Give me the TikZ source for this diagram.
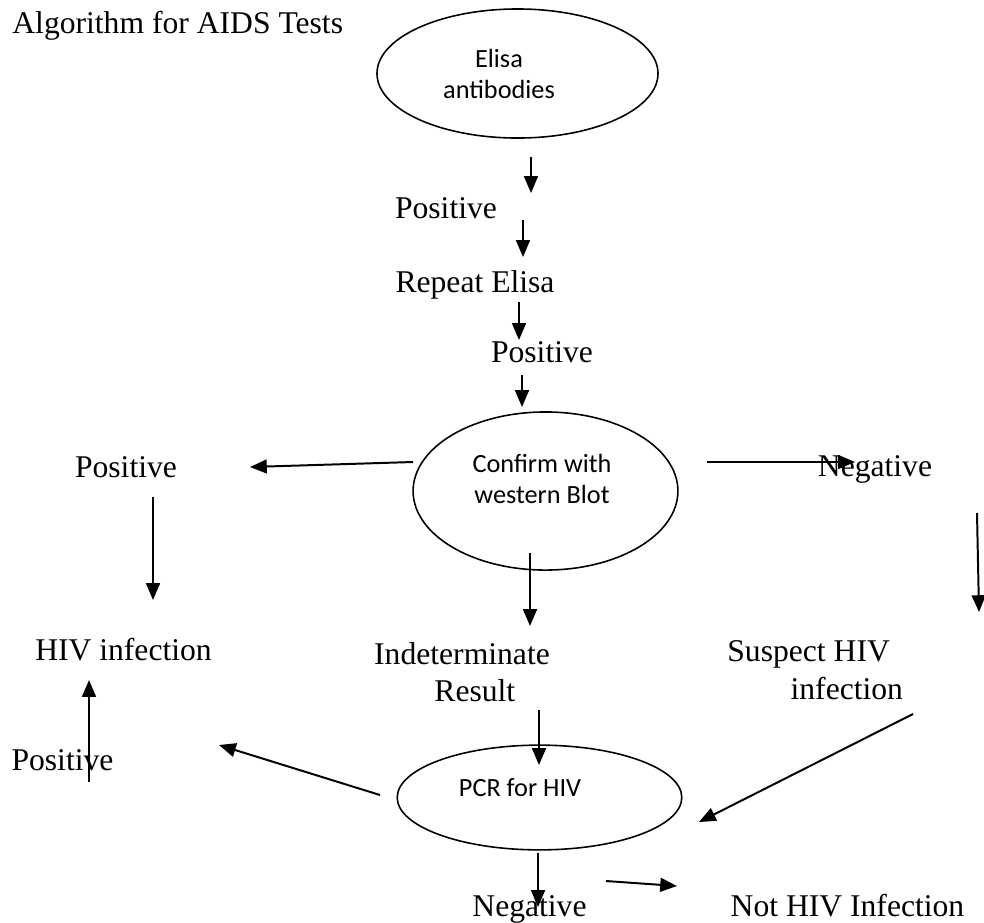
\documentclass[tikz,border=0pt]{standalone}
\usepackage{fontspec}
\setmainfont{Liberation Serif}
\newfontfamily\calibri{Carlito}
\usetikzlibrary{arrows.meta,shapes.geometric}

\tikzset{
  lbl/.style={font=\fontsize{16}{19}\selectfont, inner sep=0pt, align=center, anchor=base},
  oval/.style={draw, ellipse, line width=0.8pt, inner sep=0pt},
  ovaltxt/.style={font=\calibri\fontsize{13.3}{15.7}\selectfont, inner sep=0pt, align=center},
  flow/.style={line width=1pt, -{Triangle[length=8.5pt,width=7pt]}}
}

\begin{document}
\begin{tikzpicture}[x=0.506pt, y=-0.506pt]
  \useasboundingbox (0,0) rectangle (984,922);

  % title
  \node[lbl, anchor=base west] (title) at (12,33) {Algorithm for AIDS Tests};

  % ovals
  \node[oval, minimum width=142.2pt, minimum height=65.3pt] (elisa) at (517.5,73.5) {};
  \node[ovaltxt] (elisaTxt) at (499,73.5) {Elisa\\antibodies};
  \node[oval, minimum width=134pt, minimum height=80pt] (blot) at (545.5,491) {};
  \node[ovaltxt] (blotTxt) at (542,479) {Confirm with\\western Blot};
  \node[oval, minimum width=144pt, minimum height=53pt] (pcr) at (539.5,797.5) {};
  \node[ovaltxt] (pcrTxt) at (520,788) {PCR for HIV};

  % labels
  \node[lbl] (posA) at (446,218) {Positive};
  \node[lbl] (repeat) at (475,292) {Repeat Elisa};
  \node[lbl] (posB) at (542,362) {Positive};
  \node[lbl] (posL) at (126,477) {Positive};
  \node[lbl] (negR) at (875,476) {Negative};
  \node[lbl] (hiv) at (123.5,660) {HIV infection};
  \node[lbl, anchor=center] (indet) at (462,672) {Indeterminate\\\hspace*{13pt}Result};
  \node[lbl, align=left, anchor=west] (suspect) at (727,670) {Suspect HIV\\\hspace*{32pt}infection};
  \node[lbl] (posBL) at (62.5,770) {Positive};
  \node[lbl] (negB) at (529.5,916) {Negative};
  \node[lbl] (notHiv) at (847.5,916) {Not HIV Infection};

  % arrow ends
  \coordinate (a1) at (531,157); \coordinate (b1) at (531,193);
  \coordinate (a2) at (523,220); \coordinate (b2) at (523,257);
  \coordinate (a3) at (519,302); \coordinate (b3) at (519,340);
  \coordinate (a4) at (522,375); \coordinate (b4) at (522,407);
  \coordinate (a5) at (413,462); \coordinate (b5) at (250,467);
  \coordinate (a6) at (153,497); \coordinate (b6) at (153,600);
  \coordinate (a7) at (707,462); \coordinate (b7) at (855,462);
  \coordinate (a8) at (977,513); \coordinate (b8) at (979,612);
  \coordinate (a9) at (530,553); \coordinate (b9) at (530,626);
  \coordinate (a10) at (89,782); \coordinate (b10) at (89,680);
  \coordinate (a11) at (380,795); \coordinate (b11) at (219,745);
  \coordinate (a12) at (539,710); \coordinate (b12) at (539,765);
  \coordinate (a13) at (913,714); \coordinate (b13) at (699,822);
  \coordinate (a14) at (538,853); \coordinate (b14) at (538,907);
  \coordinate (a15) at (606,881); \coordinate (b15) at (677,886);

  % arrows
  \draw[flow] (a1) -- (b1);
  \draw[flow] (a2) -- (b2);
  \draw[flow] (a3) -- (b3);
  \draw[flow] (a4) -- (b4);
  \draw[flow] (a5) -- (b5);
  \draw[flow] (a6) -- (b6);
  \draw[flow] (a7) -- (b7);
  \draw[flow] (a8) -- (b8);
  \draw[flow] (a9) -- (b9);
  \draw[flow] (a10) -- (b10);
  \draw[flow] (a11) -- (b11);
  \draw[flow] (a12) -- (b12);
  \draw[flow] (a13) -- (b13);
  \draw[flow] (a14) -- (b14);
  \draw[flow] (a15) -- (b15);
\end{tikzpicture}
\end{document}
